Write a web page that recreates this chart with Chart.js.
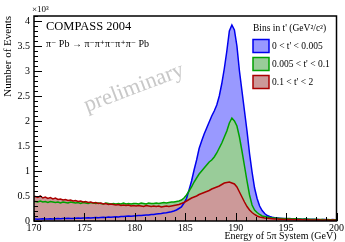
<!DOCTYPE html>
<html>
<head>
<meta charset="utf-8">
<script src="https://cdn.jsdelivr.net/npm/chart.js@4/dist/chart.umd.min.js"></script>
<style>
  body { margin: 0; background: #fff; }
  #wrap { width: 345px; height: 242px; }
</style>
</head>
<body>
<div id="wrap"><canvas id="massChart" width="345" height="242"></canvas></div>
<script>
// energy binning of the 5pi system (GeV)
const binLow = 170;
const binWidth = 0.25;
const xTicks = [170, 175, 180, 185, 190, 195, 200];
const yTicks = [0, 0.5, 1, 1.5, 2, 2.5, 3, 3.5, 4];

const seriesLabels = ["0 < t' < 0.005", "0.005 < t' < 0.1", "0.1 < t' < 2"];

// events per bin, in units of 10^3
const lowT = [
  0.04,0.035,0.04,0.045,0.04,0.04,0.045,0.04,
  0.045,0.05,0.045,0.05,0.05,0.055,0.05,0.05,
  0.055,0.06,0.055,0.06,0.06,0.065,0.06,0.065,
  0.07,0.065,0.07,0.075,0.07,0.08,0.075,0.08,
  0.085,0.08,0.09,0.09,0.095,0.1,0.095,0.1,
  0.105,0.11,0.11,0.115,0.12,0.12,0.13,0.13,
  0.14,0.145,0.15,0.16,0.165,0.175,0.185,0.2,
  0.22,0.25,0.28,0.36,
  0.45,0.62,0.80,1.02,
  1.22,1.45,1.60,1.74,
  1.86,1.98,2.10,2.20,
  2.32,2.50,2.75,3.05,
  3.40,3.80,3.92,3.82,
  3.50,3.00,2.60,2.20,
  1.80,1.35,0.98,0.66,
  0.45,0.30,0.21,0.15,
  0.11,0.09,0.075,0.065,
  0.06,0.055,0.05,0.05,0.045,0.05,0.04,0.045,
  0.04,0.04,0.035,0.04,0.035,0.03,0.035,0.03,
  0.03,0.025,0.03,0.03,0.025,0.025,0.03,0.025
];
const midT = [
  0.39,0.38,0.40,0.38,0.39,0.37,0.39,0.38,
  0.37,0.38,0.36,0.38,0.37,0.36,0.38,0.37,
  0.36,0.37,0.35,0.37,0.36,0.35,0.37,0.36,
  0.35,0.36,0.35,0.34,0.36,0.35,0.34,0.35,
  0.34,0.35,0.34,0.36,0.34,0.35,0.34,0.35,
  0.35,0.34,0.36,0.35,0.34,0.36,0.35,0.35,
  0.36,0.35,0.36,0.37,0.36,0.37,0.38,0.38,
  0.39,0.40,0.42,0.46,
  0.52,0.60,0.68,0.78,
  0.86,0.94,1.00,1.06,
  1.12,1.18,1.22,1.28,
  1.36,1.46,1.56,1.68,
  1.80,1.96,2.06,2.00,
  1.90,1.68,1.40,1.10,
  0.80,0.52,0.32,0.22,
  0.17,0.13,0.10,0.09,
  0.08,0.07,0.06,0.06,
  0.055,0.05,0.05,0.045,0.05,0.045,0.04,0.045,
  0.04,0.04,0.035,0.04,0.035,0.035,0.03,0.035,
  0.03,0.03,0.03,0.025,0.03,0.025,0.025,0.025
];
const highT = [
  0.49,0.47,0.50,0.46,0.48,0.45,0.47,0.44,
  0.46,0.43,0.44,0.42,0.43,0.41,0.42,0.40,
  0.41,0.39,0.40,0.38,0.39,0.37,0.38,0.36,
  0.37,0.35,0.36,0.34,0.35,0.33,0.34,0.33,
  0.32,0.33,0.31,0.32,0.31,0.32,0.30,0.31,
  0.30,0.31,0.30,0.29,0.31,0.30,0.29,0.30,
  0.29,0.30,0.28,0.29,0.30,0.29,0.30,0.31,
  0.32,0.33,0.35,0.37,
  0.40,0.43,0.46,0.48,
  0.50,0.53,0.55,0.57,
  0.59,0.61,0.64,0.66,
  0.68,0.70,0.73,0.76,
  0.77,0.78,0.76,0.74,
  0.68,0.58,0.48,0.38,
  0.29,0.22,0.17,0.13,
  0.10,0.08,0.07,0.06,
  0.055,0.05,0.045,0.04,
  0.04,0.035,0.035,0.03,0.035,0.03,0.03,0.025,
  0.03,0.025,0.025,0.02,0.025,0.02,0.02,0.02,
  0.025,0.02,0.015,0.02,0.02,0.015,0.02,0.015
];

const FONT = "'Liberation Serif', 'DejaVu Serif', serif";

// bin contents placed at bin centres, with the outer edges closing the range
function toPoints(vals) {
  const n = vals.length;
  const pts = vals.map((v, i) => ({ x: binLow + (i + 0.5) * binWidth, y: v }));
  pts.unshift({ x: binLow, y: vals[0] });
  pts.push({ x: binLow + n * binWidth, y: vals[n - 1] });
  return pts;
}

function hist(label, vals, line, fill, order) {
  return {
    label: label,
    data: toPoints(vals),
    borderColor: line,
    backgroundColor: fill,
    borderWidth: 1.5,
    pointRadius: 0,
    tension: 0,
    fill: "origin",
    order: order,
  };
}

// ROOT style frame with ticks drawn on the inside
const frameTicks = {
  id: "frameTicks",
  afterDatasetsDraw(chart) {
    const { ctx, chartArea: a, scales } = chart;
    ctx.save();
    ctx.strokeStyle = "#000";
    ctx.lineWidth = 1;
    for (let v = xTicks[0]; v <= xTicks[xTicks.length - 1]; v += 1) {
      const px = Math.round(scales.x.getPixelForValue(v)) + 0.5;
      const len = xTicks.includes(v) ? 8 : 4;
      ctx.beginPath();
      ctx.moveTo(px, a.bottom);
      ctx.lineTo(px, a.bottom - len);
      ctx.stroke();
    }
    for (let k = 0; k <= 41; k++) {
      const py = Math.round(scales.y.getPixelForValue(k / 10)) + 0.5;
      const len = k % 5 === 0 ? 8 : 4;
      ctx.beginPath();
      ctx.moveTo(a.left, py);
      ctx.lineTo(a.left + len, py);
      ctx.stroke();
    }
    ctx.lineWidth = 1.5;
    ctx.strokeRect(a.left, a.top, a.right - a.left, a.bottom - a.top);
    ctx.restore();
  },
};

// labels, watermark and legend
const annotations = {
  id: "annotations",
  afterDraw(chart) {
    const { ctx, chartArea: a } = chart;
    ctx.save();
    ctx.fillStyle = "#000";
    ctx.textBaseline = "alphabetic";
    ctx.textAlign = "left";

    ctx.font = "9px " + FONT;
    ctx.fillText("\u00d710\u00b3", a.left - 2, a.top - 4);

    ctx.font = "12.5px " + FONT;
    ctx.fillText("COMPASS 2004", 46, 30);
    ctx.font = "10px " + FONT;
    ctx.fillText("\u03c0\u207b Pb \u2192 \u03c0\u207b\u03c0\u207a\u03c0\u207b\u03c0\u207a\u03c0\u207b Pb", 46, 47);

    // watermark
    ctx.save();
    ctx.translate(87, 112);
    ctx.rotate(-0.36);
    ctx.fillStyle = "#c8c8c8";
    ctx.font = "22.5px " + FONT;
    ctx.fillText("preliminary", 0, 0);
    ctx.restore();

    // legend
    ctx.font = "9.5px " + FONT;
    ctx.fillText("Bins in t' (GeV\u00b2/c\u00b2)", 253, 31);
    [0, 1, 2].forEach((di, row) => {
      const ds = chart.data.datasets[di];
      const cy = 46 + row * 18;
      ctx.fillStyle = ds.backgroundColor;
      ctx.fillRect(253, cy - 6.5, 16, 13);
      ctx.strokeStyle = ds.borderColor;
      ctx.lineWidth = 1.5;
      ctx.strokeRect(253, cy - 6.5, 16, 13);
      ctx.fillStyle = "#000";
      ctx.textBaseline = "middle";
      ctx.fillText(ds.label, 272, cy);
      ctx.textBaseline = "alphabetic";
    });
    ctx.restore();
  },
};

new Chart(document.getElementById("massChart"), {
  type: "line",
  data: {
    datasets: [
      hist(seriesLabels[0], lowT, "#0000ee", "rgb(153,153,255)", 3),
      hist(seriesLabels[1], midT, "#00a000", "rgb(153,204,153)", 2),
      hist(seriesLabels[2], highT, "#aa0000", "rgb(204,153,153)", 1),
    ],
  },
  options: {
    responsive: false,
    animation: false,
    layout: { padding: { top: 16, right: 7, left: 0, bottom: 0 } },
    plugins: {
      legend: { display: false },
      tooltip: { enabled: false },
      filler: { drawTime: "beforeDatasetsDraw" },
    },
    scales: {
      x: {
        type: "linear",
        min: 170,
        max: 200,
        afterFit(scale) { scale.height = 21; },
        afterBuildTicks(scale) { scale.ticks = xTicks.map(v => ({ value: v })); },
        grid: { display: false, drawTicks: false },
        border: { display: false },
        ticks: { padding: 1, color: "#000", font: { family: FONT, size: 10 }, callback: v => String(v) },
        title: {
          display: true,
          text: "Energy of 5\u03c0 System (GeV)",
          align: "end",
          color: "#000",
          padding: { top: 0, bottom: 0 },
          font: { family: FONT, size: 10 },
        },
      },
      y: {
        min: 0,
        max: 4.1,
        afterFit(scale) { scale.width = 34; },
        afterBuildTicks(scale) { scale.ticks = yTicks.map(v => ({ value: v })); },
        grid: { display: false, drawTicks: false },
        border: { display: false },
        ticks: { padding: 4, color: "#000", font: { family: FONT, size: 10 }, callback: v => String(v) },
        title: {
          display: true,
          text: "Number of Events",
          align: "end",
          color: "#000",
          padding: { top: 2, bottom: 0 },
          font: { family: FONT, size: 11 },
        },
      },
    },
  },
  plugins: [frameTicks, annotations],
});
</script>
</body>
</html>
